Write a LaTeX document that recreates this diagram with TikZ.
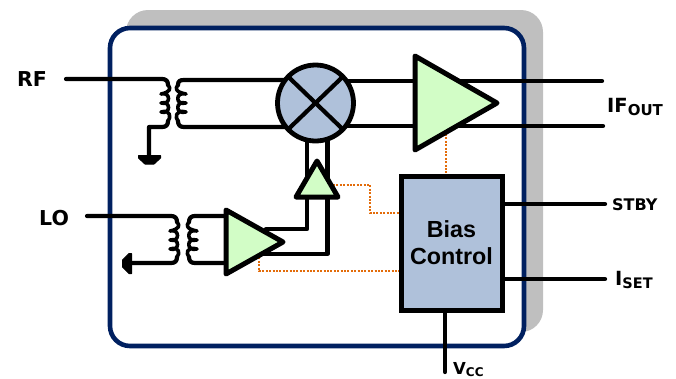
\documentclass[tikz,border=0pt]{standalone}
\usepackage{fontspec}
\setmainfont{Liberation Sans}
\newfontfamily\tah{DejaVu Sans}
\usetikzlibrary{calc}
\definecolor{navy}{HTML}{002060}
\definecolor{backgray}{HTML}{BFBFBF}
\definecolor{blk}{HTML}{AFC1DA}
\definecolor{grn}{HTML}{D2FDC6}
\definecolor{org}{HTML}{E36C0A}
\tikzset{x=1pt,y=-1pt,
 wire/.style={line width=4.2pt,line cap=round,line join=round,draw=black},
 dots/.style={line width=1.2pt,dash pattern=on 2pt off 1.4pt,draw=org},
 amp/.style={line width=5pt,line join=round,draw=black,fill=grn},
 lbl/.style={inner sep=0pt,anchor=base west}}
% coil: #1 edge x, #2 cusp x, #3 control x, #4 y top, #5..#7 cusps, #8 y bottom
\newcommand{\coil}[8]{%
 \draw[wire,line width=3.6pt] (#1,#4) .. controls (#3,#4+3) and (#3,#5-2) .. (#2,#5)
  .. controls (#3,#5-3) and (#3,#6+3) .. (#2,#6)
  .. controls (#3,#6-3) and (#3,#7+3) .. (#2,#7)
  .. controls (#3,#7-3) and (#3,#8-3) .. (#1,#8);}
\begin{document}
\begin{tikzpicture}
\useasboundingbox (0,0) rectangle (676,378);
% shadow
\fill[backgray,rounded corners=22pt] (126,10) rectangle (543,332);
% chip
\draw[navy,line width=4.6pt,fill=white,rounded corners=20pt] (110,28) rectangle (524,346);
% Dotted control lines
\coordinate (d1a) at (333,185);
\coordinate (d1b) at (370,213);
\coordinate (d2a) at (259,254);
\coordinate (d2b) at (401,271);
\draw[dots] (d1a) -| (d1b) -- (d1b -| d2b);
\draw[dots] (d2a) |- (d2b);
\draw[dots] (446,134) -- (446,177);
% RF transformer
\coordinate (rfin) at (66,79);
\coordinate (gnda) at (149,157);
\draw[wire] (rfin) -- (162,79) .. controls (166,79) and (168,81) .. (168,85);
\draw[wire] (gnda) -- (149,127) -- (162,127) .. controls (166,127) and (168,125) .. (168,121);
\coil{168}{161}{171}{85}{94}{103}{112}{121}
\coil{178}{186}{175}{85}{94}{103}{112}{121}
\draw[wire] (178,85) .. controls (178,81) and (180,80) .. (184,80) -- (290,80);
\draw[wire] (178,121) .. controls (178,125) and (180,127) .. (184,127) -- (290,127);
\fill[line join=round,draw=black,line width=1pt] (138.5,155.5) -- (160.5,155.5) -- (160.5,158) -- (154,164) -- (145,164) -- (138.5,158) -- cycle;
% LO transformer
\coordinate (loin) at (87,216);
\coordinate (gndb) at (130,263);
\draw[wire] (loin) -- (171,216) .. controls (175,216) and (177,218) .. (177,222);
\draw[wire] (gndb) -- (171,263) .. controls (175,263) and (177,261) .. (177,257);
\coil{177}{170}{180}{222}{231}{240}{249}{257}
\coil{189}{197}{186}{222}{231}{240}{249}{257}
\draw[wire] (189,222) .. controls (189,218) and (191,216) .. (195,216) -- (226,216);
\draw[wire] (189,257) .. controls (189,261) and (191,263) .. (195,263) -- (226,263);
\fill[line join=round,draw=black,line width=1pt] (131.5,253.5) -- (131.5,273.5) -- (129,273.5) -- (122.5,267) -- (122.5,260) -- (129,253.5) -- cycle;
% Mixer LO links
\draw[wire] (266,229) -- (307,229) -- (307,140);
\draw[wire] (262,254) -- (327.5,254) -- (327.5,140);
% Outputs
\coordinate (ifa) at (602,81);
\coordinate (ifb) at (603,126);
\draw[wire] (340,81) -- (ifa);
\draw[wire] (340,126) -- (ifb);
% Mixer
\node[circle,draw=black,fill=blk,line width=4.8pt,minimum size=76pt,inner sep=0pt] (mix) at (315.5,103) {};
\draw[wire,line cap=butt] ($(mix)+(-27,-26)$) -- ($(mix)+(27,26)$);
\draw[wire,line cap=butt] ($(mix)+(-27,26)$) -- ($(mix)+(27,-26)$);
% Amps
\filldraw[amp] (415,56) -- (497,103) -- (415,150) -- cycle;
\filldraw[amp] (226,210) -- (283,242) -- (226,274) -- cycle;
\filldraw[amp] (296,197) -- (317,161) -- (338,197) -- cycle;
% Bias
\node[draw=black,fill=blk,line width=5pt,minimum width=101pt,minimum height=134pt,inner sep=0pt,align=center,
  font=\bfseries\fontsize{23.3}{27}\selectfont] (bias) at (451.5,243) {Bias\\Control};
% pins
\coordinate (stby) at (605,204);
\coordinate (iset) at (605,279);
\coordinate (vcc) at (445,372);
\draw[wire] (bias.east |- stby) -- (stby);
\draw[wire] (bias.east |- iset) -- (iset);
\draw[wire] (bias.south -| vcc) -- (vcc);
% labels
\node[lbl,font=\bfseries\fontsize{20.5}{20}\selectfont] (rf) at (17,86) {\tah RF};
\node[lbl,font=\bfseries\fontsize{20.5}{20}\selectfont] (lo) at (39,225) {\tah LO};
\node[lbl,font=\bfseries\fontsize{19.5}{19}\selectfont] (if) at (607,112) {\tah IF\fontsize{15}{14}\selectfont\raisebox{-3pt}{OUT}};
\node[lbl,font=\bfseries\fontsize{16}{16}\selectfont] (st) at (612,210.5) {\tah STBY};
\node[lbl,font=\bfseries\fontsize{19.5}{19}\selectfont] (is) at (615,285) {\tah I\fontsize{14.5}{14}\selectfont\raisebox{-3pt}{SET}};
\node[lbl,font=\bfseries\fontsize{16.5}{16}\selectfont] (vc) at (453,374.5) {\tah V\fontsize{12}{12}\selectfont\raisebox{-1.5pt}{CC}};
\end{tikzpicture}
\end{document}
